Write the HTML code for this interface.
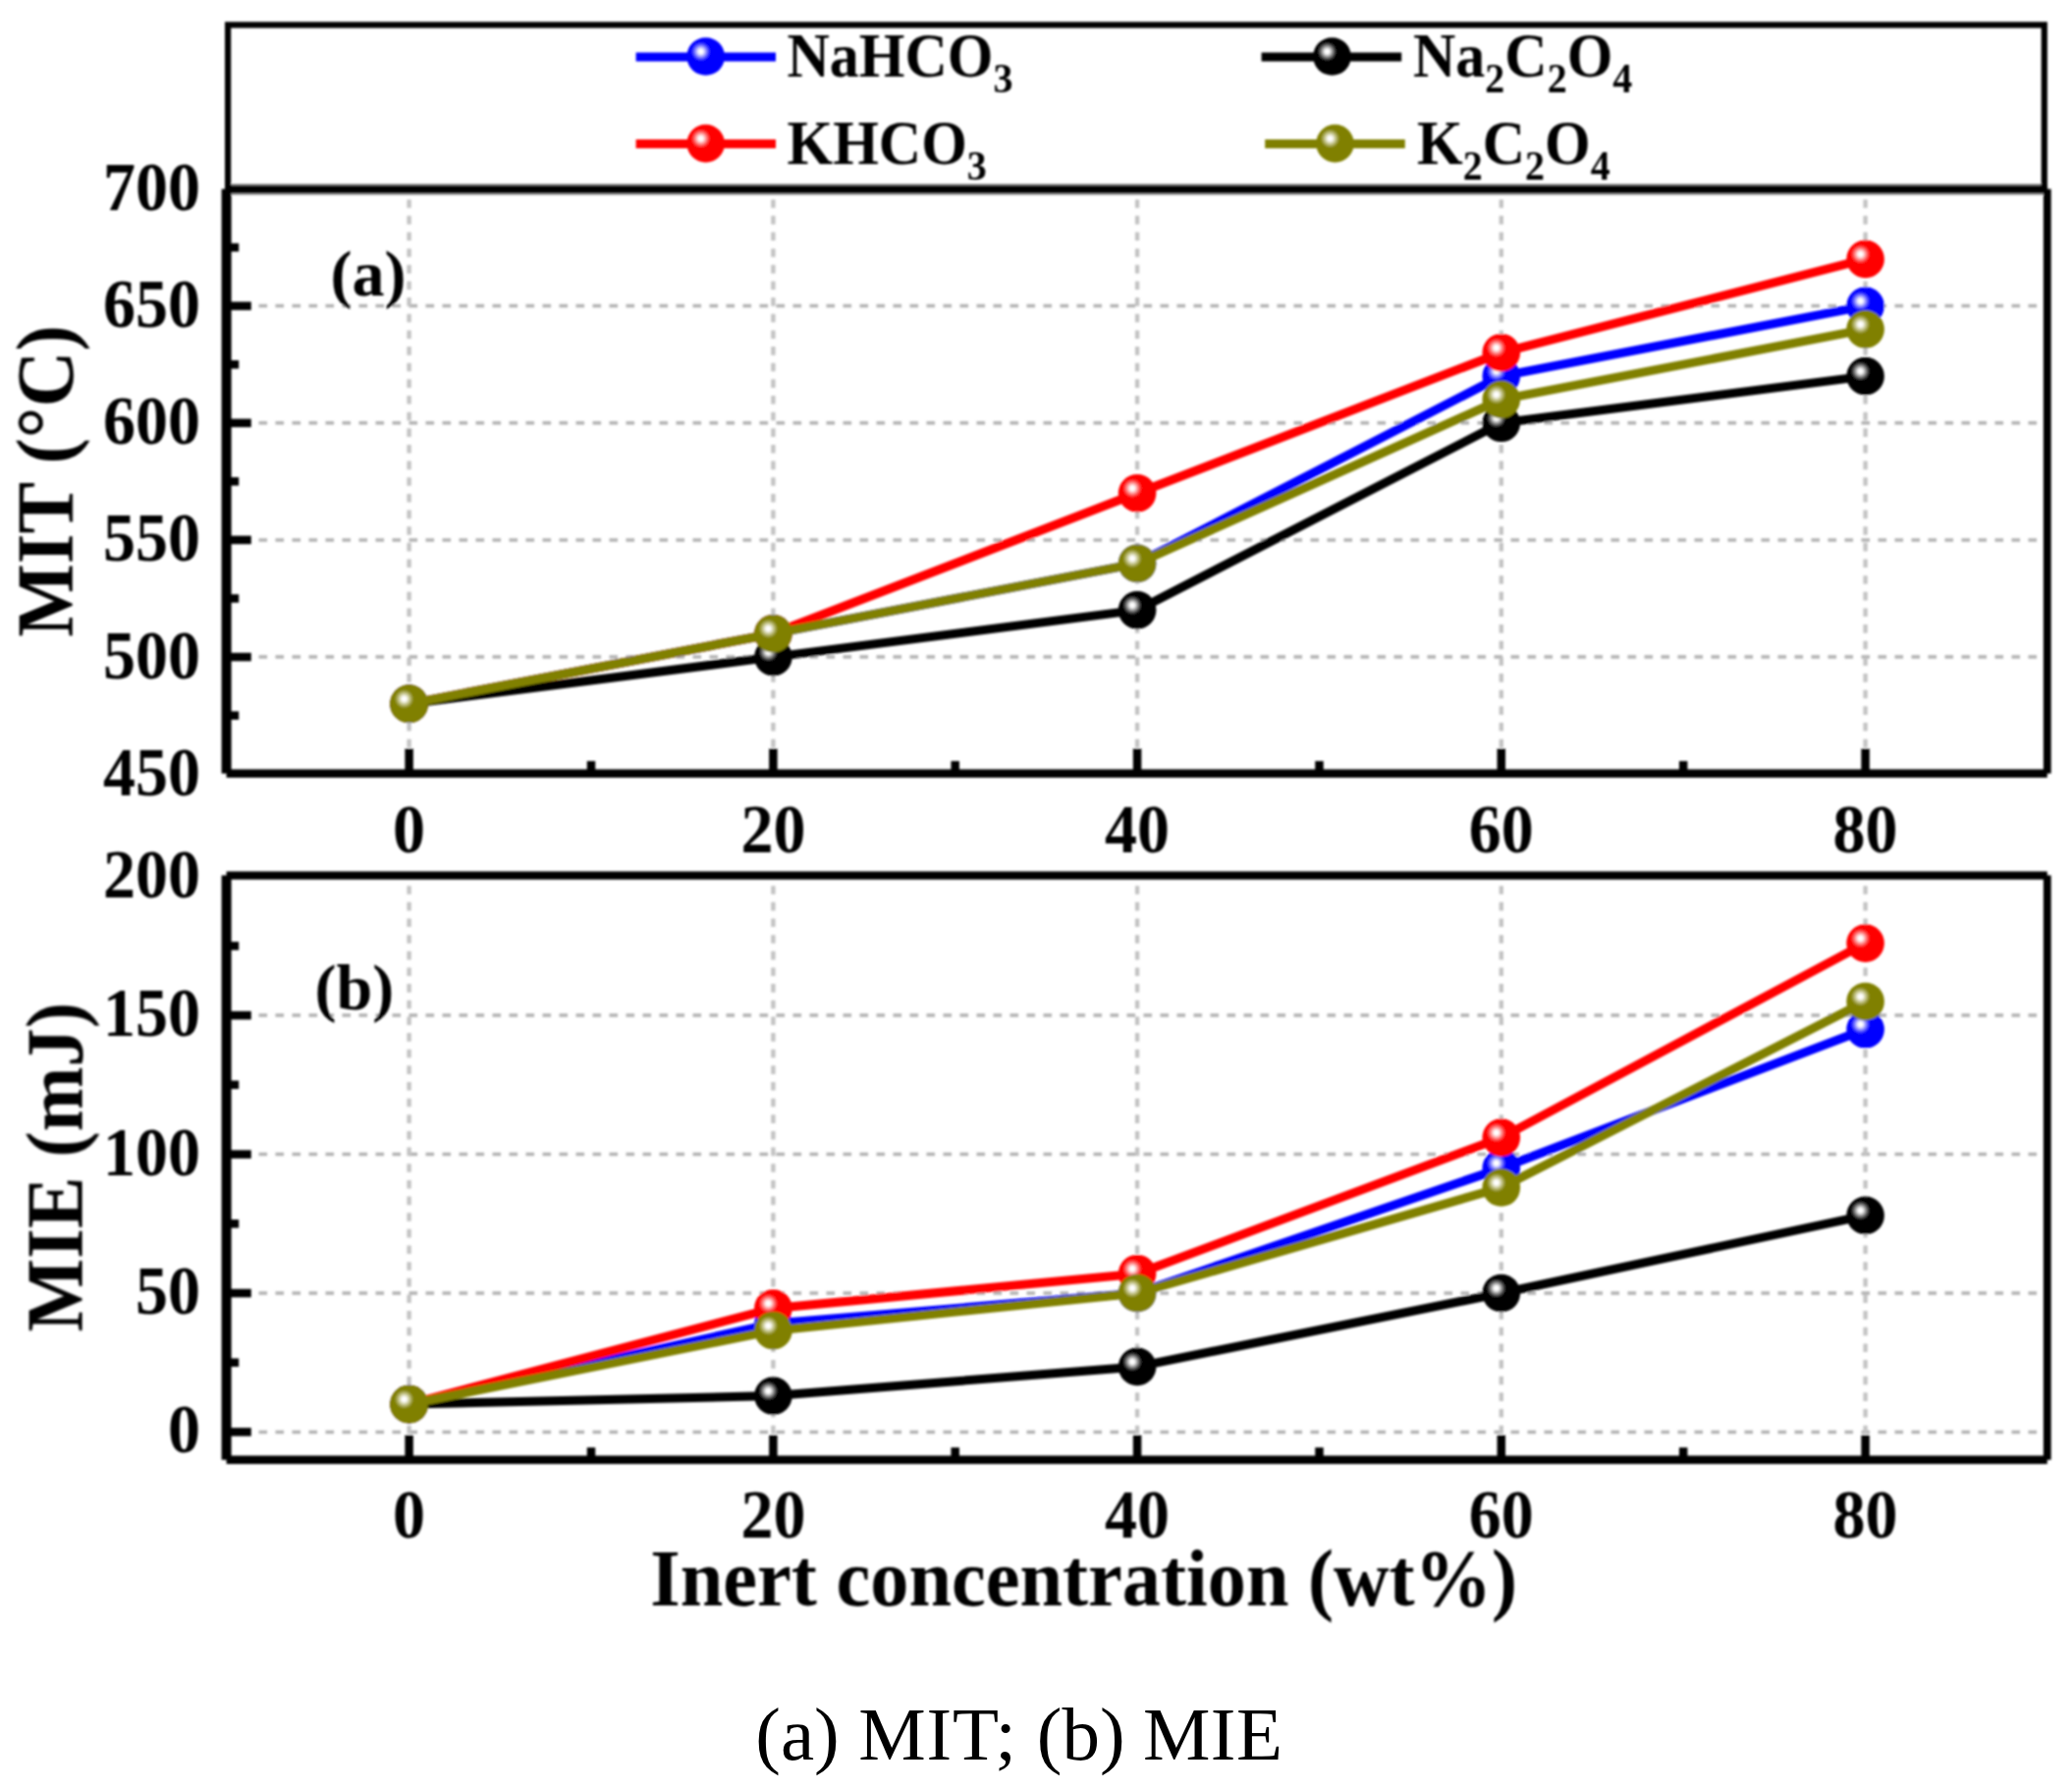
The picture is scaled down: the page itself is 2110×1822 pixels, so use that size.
<!DOCTYPE html>
<html lang="en"><head><meta charset="utf-8"><title>MIT and MIE versus inert concentration</title>
<style>
html,body{margin:0;padding:0;background:#fff;}
body{width:2110px;height:1822px;overflow:hidden;}
svg{display:block;}
text{font-family:"Liberation Serif",serif;fill:#000;}
.b{font-weight:bold;}
.tick{font-size:66px;}
.ttl{font-size:79px;}
.lg{font-size:60px;}
.sub{font-size:40px;}
.cap{font-size:77px;}
</style></head><body>
<svg width="2110" height="1822" viewBox="0 0 2110 1822">
<defs>
<filter id="soft" x="-2%" y="-2%" width="104%" height="104%"><feGaussianBlur stdDeviation="1.05"/></filter>
<radialGradient id="gb" cx="0.37" cy="0.37" r="0.25" fx="0.37" fy="0.37"><stop offset="0" stop-color="#fff"/><stop offset="0.22" stop-color="#fff"/><stop offset="1" stop-color="#fff" stop-opacity="0"/></radialGradient>
<radialGradient id="gr" cx="0.37" cy="0.37" r="0.25" fx="0.37" fy="0.37"><stop offset="0" stop-color="#fff"/><stop offset="0.22" stop-color="#fff"/><stop offset="1" stop-color="#fff" stop-opacity="0"/></radialGradient>
<radialGradient id="gk" cx="0.37" cy="0.37" r="0.25" fx="0.37" fy="0.37"><stop offset="0" stop-color="#fff"/><stop offset="0.22" stop-color="#fff"/><stop offset="1" stop-color="#fff" stop-opacity="0"/></radialGradient>
<radialGradient id="go" cx="0.37" cy="0.37" r="0.25" fx="0.37" fy="0.37"><stop offset="0" stop-color="#fff"/><stop offset="0.22" stop-color="#fff"/><stop offset="1" stop-color="#fff" stop-opacity="0"/></radialGradient>
</defs>
<rect width="100%" height="100%" fill="#fff"/>
<g filter="url(#soft)">
<g stroke="#b2b2b2" stroke-width="3.5" stroke-dasharray="8.6 8.4" fill="none">
<path d="M263.5 669.1H2084.8"/><path d="M263.5 549.9H2084.8"/><path d="M263.5 430.8H2084.8"/><path d="M263.5 311.6H2084.8"/></g>
<g stroke="#c2c2c2" stroke-width="4.3" stroke-dasharray="8.6 8.05" fill="none">
<path d="M416.6 203.2V787.7"/><path d="M787.4 203.2V787.7"/><path d="M1158.1 203.2V787.7"/><path d="M1528.8 203.2V787.7"/><path d="M1899.6 203.2V787.7"/></g>
<g stroke="#000" stroke-width="8.5" fill="none">
<path d="M230.6 669.1h25.2"/><path d="M230.6 549.9h25.2"/><path d="M230.6 430.8h25.2"/><path d="M230.6 311.6h25.2"/><path d="M230.6 728.7h12.6"/><path d="M230.6 609.5h12.6"/><path d="M230.6 490.3h12.6"/><path d="M230.6 371.2h12.6"/><path d="M230.6 252.0h12.6"/><path d="M416.6 787.7v-25.2"/><path d="M787.4 787.7v-25.2"/><path d="M1158.1 787.7v-25.2"/><path d="M1528.8 787.7v-25.2"/><path d="M1899.6 787.7v-25.2"/><path d="M602.0 787.7v-12.6"/><path d="M972.7 787.7v-12.6"/><path d="M1343.5 787.7v-12.6"/><path d="M1714.2 787.7v-12.6"/></g>
<polyline points="416.6,716.8 787.4,645.3 1158.1,573.8 1528.8,383.1 1899.6,311.6" fill="none" stroke="#0000ff" stroke-width="9" stroke-linejoin="round"/>
<circle cx="416.6" cy="716.8" r="19.3" fill="#0000ff"/><circle cx="416.6" cy="716.8" r="19.3" fill="url(#gb)"/>
<circle cx="787.4" cy="645.3" r="19.3" fill="#0000ff"/><circle cx="787.4" cy="645.3" r="19.3" fill="url(#gb)"/>
<circle cx="1158.1" cy="573.8" r="19.3" fill="#0000ff"/><circle cx="1158.1" cy="573.8" r="19.3" fill="url(#gb)"/>
<circle cx="1528.8" cy="383.1" r="19.3" fill="#0000ff"/><circle cx="1528.8" cy="383.1" r="19.3" fill="url(#gb)"/>
<circle cx="1899.6" cy="311.6" r="19.3" fill="#0000ff"/><circle cx="1899.6" cy="311.6" r="19.3" fill="url(#gb)"/>
<polyline points="416.6,716.8 787.4,645.3 1158.1,502.3 1528.8,359.2 1899.6,263.9" fill="none" stroke="#ff0000" stroke-width="9" stroke-linejoin="round"/>
<circle cx="416.6" cy="716.8" r="19.3" fill="#ff0000"/><circle cx="416.6" cy="716.8" r="19.3" fill="url(#gr)"/>
<circle cx="787.4" cy="645.3" r="19.3" fill="#ff0000"/><circle cx="787.4" cy="645.3" r="19.3" fill="url(#gr)"/>
<circle cx="1158.1" cy="502.3" r="19.3" fill="#ff0000"/><circle cx="1158.1" cy="502.3" r="19.3" fill="url(#gr)"/>
<circle cx="1528.8" cy="359.2" r="19.3" fill="#ff0000"/><circle cx="1528.8" cy="359.2" r="19.3" fill="url(#gr)"/>
<circle cx="1899.6" cy="263.9" r="19.3" fill="#ff0000"/><circle cx="1899.6" cy="263.9" r="19.3" fill="url(#gr)"/>
<polyline points="416.6,716.8 787.4,669.1 1158.1,621.4 1528.8,430.8 1899.6,383.1" fill="none" stroke="#000000" stroke-width="9" stroke-linejoin="round"/>
<circle cx="416.6" cy="716.8" r="19.3" fill="#000000"/><circle cx="416.6" cy="716.8" r="19.3" fill="url(#gk)"/>
<circle cx="787.4" cy="669.1" r="19.3" fill="#000000"/><circle cx="787.4" cy="669.1" r="19.3" fill="url(#gk)"/>
<circle cx="1158.1" cy="621.4" r="19.3" fill="#000000"/><circle cx="1158.1" cy="621.4" r="19.3" fill="url(#gk)"/>
<circle cx="1528.8" cy="430.8" r="19.3" fill="#000000"/><circle cx="1528.8" cy="430.8" r="19.3" fill="url(#gk)"/>
<circle cx="1899.6" cy="383.1" r="19.3" fill="#000000"/><circle cx="1899.6" cy="383.1" r="19.3" fill="url(#gk)"/>
<polyline points="416.6,716.8 787.4,645.3 1158.1,573.8 1528.8,406.9 1899.6,335.4" fill="none" stroke="#808000" stroke-width="9" stroke-linejoin="round"/>
<circle cx="416.6" cy="716.8" r="19.3" fill="#808000"/><circle cx="416.6" cy="716.8" r="19.3" fill="url(#go)"/>
<circle cx="787.4" cy="645.3" r="19.3" fill="#808000"/><circle cx="787.4" cy="645.3" r="19.3" fill="url(#go)"/>
<circle cx="1158.1" cy="573.8" r="19.3" fill="#808000"/><circle cx="1158.1" cy="573.8" r="19.3" fill="url(#go)"/>
<circle cx="1528.8" cy="406.9" r="19.3" fill="#808000"/><circle cx="1528.8" cy="406.9" r="19.3" fill="url(#go)"/>
<circle cx="1899.6" cy="335.4" r="19.3" fill="#808000"/><circle cx="1899.6" cy="335.4" r="19.3" fill="url(#go)"/>
<g stroke="#000" fill="none"><path d="M230.6 192.6V787.7" stroke-width="10"/><path d="M2084.8 192.6V787.7" stroke-width="7.8"/><path d="M230.6 787.7H2084.8" stroke-width="8.4"/></g>
<path d="M235.5 192.8H2081" stroke="#8a8a8a" stroke-width="11.2"/><path d="M232.1 192.8V25.4H2081.8V192.8" fill="none" stroke="#000" stroke-width="6.2"/><path d="M229 192.9H2085" stroke="#000" stroke-width="8.2"/>
<g stroke="#b2b2b2" stroke-width="3.5" stroke-dasharray="8.6 8.4" fill="none">
<path d="M263.5 1458.4H2084.8"/><path d="M263.5 1317.0H2084.8"/><path d="M263.5 1175.6H2084.8"/><path d="M263.5 1034.1H2084.8"/></g>
<g stroke="#c2c2c2" stroke-width="4.3" stroke-dasharray="8.6 8.05" fill="none">
<path d="M416.6 902.2V1486.8"/><path d="M787.4 902.2V1486.8"/><path d="M1158.1 902.2V1486.8"/><path d="M1528.8 902.2V1486.8"/><path d="M1899.6 902.2V1486.8"/></g>
<g stroke="#000" stroke-width="8.5" fill="none">
<path d="M230.6 1458.4h25.2"/><path d="M230.6 1317.0h25.2"/><path d="M230.6 1175.6h25.2"/><path d="M230.6 1034.1h25.2"/><path d="M230.6 1387.7h12.6"/><path d="M230.6 1246.3h12.6"/><path d="M230.6 1104.8h12.6"/><path d="M230.6 963.4h12.6"/><path d="M416.6 1486.8v-25.2"/><path d="M787.4 1486.8v-25.2"/><path d="M1158.1 1486.8v-25.2"/><path d="M1528.8 1486.8v-25.2"/><path d="M1899.6 1486.8v-25.2"/><path d="M602.0 1486.8v-12.6"/><path d="M972.7 1486.8v-12.6"/><path d="M1343.5 1486.8v-12.6"/><path d="M1714.2 1486.8v-12.6"/></g>
<polyline points="416.6,1430.1 787.4,1348.1 1158.1,1317.0 1528.8,1189.7 1899.6,1048.3" fill="none" stroke="#0000ff" stroke-width="9" stroke-linejoin="round"/>
<circle cx="416.6" cy="1430.1" r="19.3" fill="#0000ff"/><circle cx="416.6" cy="1430.1" r="19.3" fill="url(#gb)"/>
<circle cx="787.4" cy="1348.1" r="19.3" fill="#0000ff"/><circle cx="787.4" cy="1348.1" r="19.3" fill="url(#gb)"/>
<circle cx="1158.1" cy="1317.0" r="19.3" fill="#0000ff"/><circle cx="1158.1" cy="1317.0" r="19.3" fill="url(#gb)"/>
<circle cx="1528.8" cy="1189.7" r="19.3" fill="#0000ff"/><circle cx="1528.8" cy="1189.7" r="19.3" fill="url(#gb)"/>
<circle cx="1899.6" cy="1048.3" r="19.3" fill="#0000ff"/><circle cx="1899.6" cy="1048.3" r="19.3" fill="url(#gb)"/>
<polyline points="416.6,1430.1 787.4,1332.5 1158.1,1297.2 1528.8,1158.6 1899.6,960.6" fill="none" stroke="#ff0000" stroke-width="9" stroke-linejoin="round"/>
<circle cx="416.6" cy="1430.1" r="19.3" fill="#ff0000"/><circle cx="416.6" cy="1430.1" r="19.3" fill="url(#gr)"/>
<circle cx="787.4" cy="1332.5" r="19.3" fill="#ff0000"/><circle cx="787.4" cy="1332.5" r="19.3" fill="url(#gr)"/>
<circle cx="1158.1" cy="1297.2" r="19.3" fill="#ff0000"/><circle cx="1158.1" cy="1297.2" r="19.3" fill="url(#gr)"/>
<circle cx="1528.8" cy="1158.6" r="19.3" fill="#ff0000"/><circle cx="1528.8" cy="1158.6" r="19.3" fill="url(#gr)"/>
<circle cx="1899.6" cy="960.6" r="19.3" fill="#ff0000"/><circle cx="1899.6" cy="960.6" r="19.3" fill="url(#gr)"/>
<polyline points="416.6,1430.1 787.4,1421.6 1158.1,1391.9 1528.8,1317.0 1899.6,1237.8" fill="none" stroke="#000000" stroke-width="9" stroke-linejoin="round"/>
<circle cx="416.6" cy="1430.1" r="19.3" fill="#000000"/><circle cx="416.6" cy="1430.1" r="19.3" fill="url(#gk)"/>
<circle cx="787.4" cy="1421.6" r="19.3" fill="#000000"/><circle cx="787.4" cy="1421.6" r="19.3" fill="url(#gk)"/>
<circle cx="1158.1" cy="1391.9" r="19.3" fill="#000000"/><circle cx="1158.1" cy="1391.9" r="19.3" fill="url(#gk)"/>
<circle cx="1528.8" cy="1317.0" r="19.3" fill="#000000"/><circle cx="1528.8" cy="1317.0" r="19.3" fill="url(#gk)"/>
<circle cx="1899.6" cy="1237.8" r="19.3" fill="#000000"/><circle cx="1899.6" cy="1237.8" r="19.3" fill="url(#gk)"/>
<polyline points="416.6,1430.1 787.4,1355.2 1158.1,1317.0 1528.8,1209.5 1899.6,1020.0" fill="none" stroke="#808000" stroke-width="9" stroke-linejoin="round"/>
<circle cx="416.6" cy="1430.1" r="19.3" fill="#808000"/><circle cx="416.6" cy="1430.1" r="19.3" fill="url(#go)"/>
<circle cx="787.4" cy="1355.2" r="19.3" fill="#808000"/><circle cx="787.4" cy="1355.2" r="19.3" fill="url(#go)"/>
<circle cx="1158.1" cy="1317.0" r="19.3" fill="#808000"/><circle cx="1158.1" cy="1317.0" r="19.3" fill="url(#go)"/>
<circle cx="1528.8" cy="1209.5" r="19.3" fill="#808000"/><circle cx="1528.8" cy="1209.5" r="19.3" fill="url(#go)"/>
<circle cx="1899.6" cy="1020.0" r="19.3" fill="#808000"/><circle cx="1899.6" cy="1020.0" r="19.3" fill="url(#go)"/>
<g stroke="#000" fill="none"><path d="M230.6 891.6V1486.8" stroke-width="10"/><path d="M2084.8 891.6V1486.8" stroke-width="7.8"/><path d="M230.6 1486.8H2084.8" stroke-width="8.4"/><path d="M230.6 891.6H2084.8" stroke-width="8.2"/></g>
<path d="M647.6 57.9H790" stroke="#0000ff" stroke-width="9"/><circle cx="718.7" cy="57.5" r="19.3" fill="#0000ff"/><circle cx="718.7" cy="57.5" r="19.3" fill="url(#gb)"/>
<path d="M647.6 146.5H790" stroke="#ff0000" stroke-width="9"/><circle cx="718.7" cy="146.1" r="19.3" fill="#ff0000"/><circle cx="718.7" cy="146.1" r="19.3" fill="url(#gr)"/>
<path d="M1284.6 57.9H1427.2" stroke="#000000" stroke-width="9"/><circle cx="1356.5" cy="57.5" r="19.3" fill="#000000"/><circle cx="1356.5" cy="57.5" r="19.3" fill="url(#gk)"/>
<path d="M1288.2 146.5H1430.8" stroke="#808000" stroke-width="9"/><circle cx="1359.5" cy="146.1" r="19.3" fill="#808000"/><circle cx="1359.5" cy="146.1" r="19.3" fill="url(#go)"/>
<text class="b lg" transform="translate(801.5 78.0) scale(1 1.05)">NaHCO<tspan class="sub" dy="15">3</tspan></text>
<text class="b lg" transform="translate(801.5 166.8) scale(1 1.05)">KHCO<tspan class="sub" dy="15">3</tspan></text>
<text class="b lg" transform="translate(1439.0 78.0) scale(1 1.05)">Na<tspan class="sub" dy="15">2</tspan><tspan dy="-15">C</tspan><tspan class="sub" dy="15">2</tspan><tspan dy="-15">O</tspan><tspan class="sub" dy="15">4</tspan></text>
<text class="b lg" transform="translate(1443.0 166.8) scale(1 1.05)">K<tspan class="sub" dy="15">2</tspan><tspan dy="-15">C</tspan><tspan class="sub" dy="15">2</tspan><tspan dy="-15">O</tspan><tspan class="sub" dy="15">4</tspan></text>
<text class="b tick" text-anchor="end" transform="translate(204.0 809.8) scale(1 1.05)">450</text><text class="b tick" text-anchor="end" transform="translate(204.0 690.6) scale(1 1.05)">500</text><text class="b tick" text-anchor="end" transform="translate(204.0 571.4) scale(1 1.05)">550</text><text class="b tick" text-anchor="end" transform="translate(204.0 452.2) scale(1 1.05)">600</text><text class="b tick" text-anchor="end" transform="translate(204.0 333.1) scale(1 1.05)">650</text><text class="b tick" text-anchor="end" transform="translate(204.0 213.9) scale(1 1.05)">700</text>
<text class="b tick" text-anchor="end" transform="translate(204.0 1479.3) scale(1 1.05)">0</text><text class="b tick" text-anchor="end" transform="translate(204.0 1337.9) scale(1 1.05)">50</text><text class="b tick" text-anchor="end" transform="translate(204.0 1196.5) scale(1 1.05)">100</text><text class="b tick" text-anchor="end" transform="translate(204.0 1055.0) scale(1 1.05)">150</text><text class="b tick" text-anchor="end" transform="translate(204.0 913.6) scale(1 1.05)">200</text>
<text class="b tick" text-anchor="middle" transform="translate(416.6 867.5) scale(1 1.05)">0</text><text class="b tick" text-anchor="middle" transform="translate(416.6 1566.0) scale(1 1.05)">0</text><text class="b tick" text-anchor="middle" transform="translate(787.4 867.5) scale(1 1.05)">20</text><text class="b tick" text-anchor="middle" transform="translate(787.4 1566.0) scale(1 1.05)">20</text><text class="b tick" text-anchor="middle" transform="translate(1158.1 867.5) scale(1 1.05)">40</text><text class="b tick" text-anchor="middle" transform="translate(1158.1 1566.0) scale(1 1.05)">40</text><text class="b tick" text-anchor="middle" transform="translate(1528.8 867.5) scale(1 1.05)">60</text><text class="b tick" text-anchor="middle" transform="translate(1528.8 1566.0) scale(1 1.05)">60</text><text class="b tick" text-anchor="middle" transform="translate(1899.6 867.5) scale(1 1.05)">80</text><text class="b tick" text-anchor="middle" transform="translate(1899.6 1566.0) scale(1 1.05)">80</text>
<text class="b ttl" text-anchor="middle" transform="translate(73.3 490.0) rotate(-90) scale(1 1.05)">MIT (°C)</text>
<text class="b ttl" text-anchor="middle" transform="translate(83.2 1188.6) rotate(-90) scale(1 1.05)">MIE (mJ)</text>
<text class="b" font-size="78.3" text-anchor="middle" transform="translate(1103.7 1634.7) scale(1 1.06)">Inert concentration (wt%)</text>
<text class="b tick" x="336.5" y="301.2">(a)</text>
<text class="b tick" x="320.5" y="1027.6">(b)</text>
</g>
<text class="cap" y="1791.6"><tspan x="769.3">(a)</tspan> <tspan x="874.3" letter-spacing="0.8">MIT;</tspan> <tspan x="1055.8">(b)</tspan> <tspan x="1164" letter-spacing="0.4">MIE</tspan></text>
</svg>
</body></html>
